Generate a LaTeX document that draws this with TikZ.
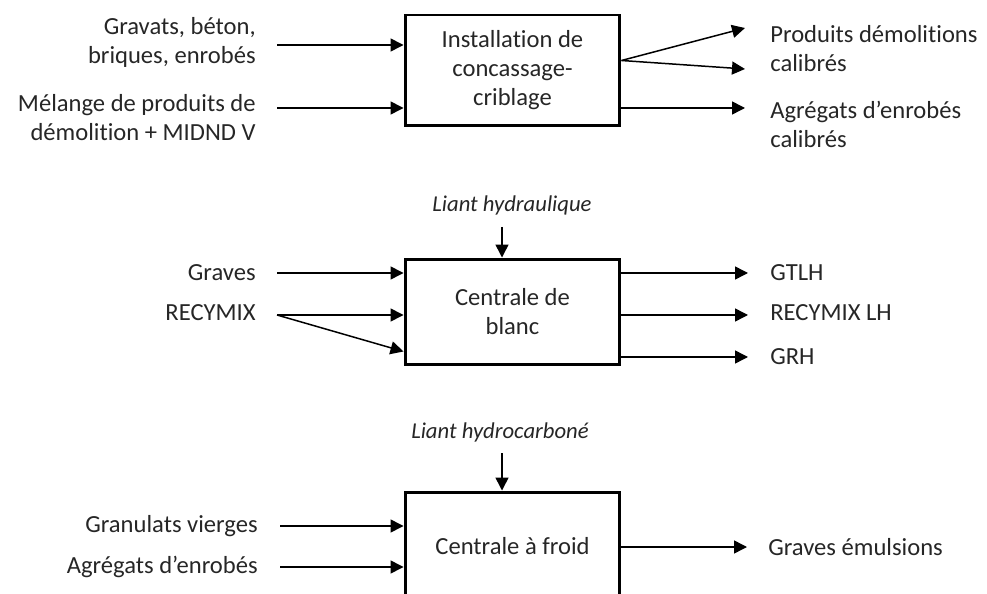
\documentclass[tikz,border=0pt]{standalone}
\usepackage{fontspec}
\setmainfont{Carlito}[Ligatures={TeX,NoCommon}]
\usetikzlibrary{calc}
\usetikzlibrary{positioning}
\usetikzlibrary{arrows.meta}

\tikzset{
  boite/.style={draw, rectangle, line width=1.7pt, minimum width=4.3cm, align=center, inner sep=0pt},
  fleche/.style={line width=0.85pt, -{Triangle[length=7.4pt,width=7.4pt]}},
}

\begin{document}
\begin{tikzpicture}[x=0.02cm, y=-0.02cm, every node/.style={font=\fontsize{14}{16.5}\selectfont, text=black!85}]
    \useasboundingbox (0,0) rectangle (987,594);
    \clip (0,0) rectangle (987,594);
    % les trois installations
    \node[boite, minimum height=2.22cm] (conc) at (512.5,70.5) {Installation de\\ concassage-\\ criblage};
    \node[boite, minimum height=2.12cm] (blanc) at (512.5,312) {Centrale de\\ blanc};
    \node[boite, minimum height=2.16cm] (froid) at (512.5,546) {Centrale à froid};

    % entrees
    \begin{scope}[every node/.append style={inner sep=0pt, anchor=east, align=right}]
    \node (gravats) at (256,42) {Gravats, béton,\\ briques, enrobés};
    \node (melange) at (256,118) {Mélange de produits de\\ démolition + MIDND V};
    \node (graves) at (256,273) {Graves};
    \node (recymix) at (256,313) {RECYMIX};
    \node (granulats) at (258,526) {Granulats vierges};
    \node (agregats) at (258,567) {Agrégats d’enrobés};
    \end{scope}

    % sorties
    \begin{scope}[every node/.append style={inner sep=0pt, anchor=west, align=left}]
    \node (produits) at (770,48.5) {Produits démolitions\\ calibrés};
    \node (agrcal) at (770,124) {Agrégats d’enrobés\\ calibrés};
    \node (gtlh) at (770,273) {GTLH};
    \node (recylh) at (770,313) {RECYMIX LH};
    \node (grh) at (770,357) {GRH};
    \node (emuls) at (768,547) {Graves émulsions};
    \end{scope}

    % liants
    \node[inner sep=0pt, font=\fontsize{12.9}{15}\selectfont\itshape] (hydrau) at (512,205) {Liant hydraulique};
    \node[inner sep=0pt, font=\fontsize{12.9}{15}\selectfont\itshape] (hydroc) at (500,432) {Liant hydrocarboné};

    \coordinate (e1) at (277,45);
    \coordinate (e2) at (277,108);
    \coordinate (e3) at (277,273);
    \coordinate (e4) at (277,315);
    \coordinate (e5) at (280,526);
    \coordinate (e6) at (280,567);
    \coordinate (s1) at (745,28);
    \coordinate (s2) at (745,69);
    \coordinate (s3) at (745,108);
    \coordinate (s4) at (748,273);
    \coordinate (s5) at (748,315);
    \coordinate (s6) at (748,357);
    \coordinate (s7) at (747,547);
    \coordinate (l1) at (502,227);
    \coordinate (l2) at (502,453);

    \draw[fleche] (e1) -- (e1 -| conc.west);
    \draw[fleche] (e2) -- (e2 -| conc.west);
    \draw[fleche] ($(conc.east)+(0,-10)$) -- (s1);
    \draw[fleche] ($(conc.east)+(0,-10)$) -- (s2);
    \draw[fleche] (s3 -| conc.east) -- (s3);

    \draw[fleche] (e3) -- (e3 -| blanc.west);
    \draw[fleche] (e4) -- (e4 -| blanc.west);
    \draw[fleche] (e4) -- ($(blanc.south west)+(0,-15)$);
    \draw[fleche] (l1) -- (l1 |- blanc.north);
    \draw[fleche] (s4 -| blanc.east) -- (s4);
    \draw[fleche] (s5 -| blanc.east) -- (s5);
    \draw[fleche] (s6 -| blanc.east) -- (s6);

    \draw[fleche] (e5) -- (e5 -| froid.west);
    \draw[fleche] (e6) -- (e6 -| froid.west);
    \draw[fleche] (l2) -- (l2 |- froid.north);
    \draw[fleche] (s7 -| froid.east) -- (s7);
\end{tikzpicture}
\end{document}
